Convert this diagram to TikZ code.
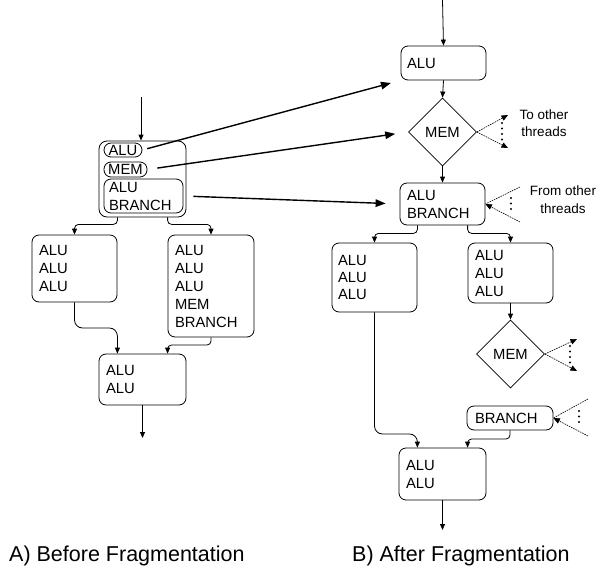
\documentclass[tikz,border=0pt]{standalone}
\usepackage{fontspec}
\setmainfont{Liberation Sans}
\usetikzlibrary{arrows.meta,shapes.geometric}
\newcommand\boxfont{\fontsize{14.8}{18}\selectfont}
\tikzset{
  bx/.style={draw, line width=0.8pt, rounded corners=7pt, align=left, inner xsep=7pt, inner ysep=0pt, font=\boxfont},
  pill/.style={draw, line width=0.8pt, rounded corners=7pt, inner sep=0pt, font=\boxfont},
  dia/.style={draw, line width=0.8pt, diamond, inner sep=0pt, minimum width=68pt, minimum height=68pt, font=\boxfont},
  arr/.style={-{Triangle[length=6pt,width=5pt]}, line width=0.8pt},
  bigarr/.style={-{Triangle[length=10pt,width=7.5pt]}, line width=1.4pt},
  fan/.style={line width=0.6pt, dash pattern=on 1.6pt off 0.9pt},
  fanarr/.style={fan, -{Triangle[length=6.5pt,width=5.5pt]}},
  dotcol/.style={line width=2.1pt, line cap=round, dash pattern=on 0pt off 5.5pt},
  note/.style={align=center, inner sep=0pt, font=\fontsize{13.5}{17.5}\selectfont},
  captext/.style={inner sep=0pt, anchor=base west, font=\fontsize{21.5}{24}\selectfont},
}
\begin{document}
\begin{tikzpicture}[x=1pt,y=-1pt]
\useasboundingbox (0,0) rectangle (603,573);

% ---------------- left: before fragmentation
\node[draw, line width=0.8pt, rounded corners=8pt, minimum width=87pt, minimum height=76pt, inner sep=0pt] (outer) at (142.5,179) {};
\node[pill, minimum width=38pt, minimum height=14pt] (pALU) at (123,150) {ALU};
\node[pill, minimum width=43pt, minimum height=15pt] (pMEM) at (125.5,169.5) {MEM};
\node[bx, inner xsep=5pt, text width=69pt, minimum height=34pt] (pAB) at (143.5,196) {ALU\\BRANCH};

\node[bx, text width=71pt, minimum height=67pt] (lA) at (74.5,268.5) {ALU\\ALU\\ALU};
\node[bx, text width=72pt, minimum height=102pt] (lB) at (211,286) {ALU\\ALU\\ALU\\MEM\\BRANCH};
\node[bx, text width=73pt, minimum height=51pt] (lC) at (142.5,379.5) {ALU\\ALU};

\coordinate (ltop) at (141,97);
\draw[arr] (ltop) -- (ltop |- outer.north);
\draw[arr, rounded corners=4pt] (lA.east |- outer.south) -- ++(0,7) -| (lA.north);
\draw[arr, rounded corners=4pt] (lB.west |- outer.south) -- ++(0,7) -| (lB.north);
\coordinate (lAbend) at (74.5,328);
\draw[arr, rounded corners=8pt] (lA.south) -- (lAbend) -- (lA.east |- lAbend) -- (lA.east |- lC.north);
\coordinate (lBbend) at (211,345);
\draw[arr, rounded corners=4pt] (lB.south) -- (lBbend) -- (lB.west |- lBbend) -- (lB.west |- lC.north);
\coordinate (lbot) at (142.5,438);
\draw[arr] (lC.south) -- (lbot);

% ---------------- right: after fragmentation
\node[bx, inner xsep=6pt, text width=73pt, minimum height=34pt] (rALU) at (443.5,63) {ALU};
\node[dia] (rM1) at (442.5,132) {MEM};
\node[bx, text width=71pt, minimum height=42pt] (rAB) at (442.5,204) {ALU\\BRANCH};
\node[bx, inner xsep=6pt, text width=73pt, minimum height=69pt, font=\fontsize{14.8}{17.3}\selectfont] (rL) at (374.5,277.5) {ALU\\ALU\\ALU};
\node[bx, text width=71pt, minimum height=60pt] (rR) at (510.5,273) {ALU\\ALU\\ALU};
\node[dia] (rM2) at (510.5,354) {MEM};
\node[bx, inner xsep=8pt, text width=70pt, minimum height=24pt] (rBr) at (510,418) {BRANCH};
\node[bx, text width=73pt, minimum height=52pt] (rC) at (442.5,474) {ALU\\ALU};

\coordinate (rtop) at (442.5,0);
\draw[arr] (rtop) -- (rALU.north);
\draw[arr] (rALU.south) -- (rM1.north);
\draw[arr] (rM1.south) -- (rAB.north);
\draw[arr, rounded corners=4pt] (rL.east |- rAB.south) -- ++(0,8) -| (rL.north);
\draw[arr, rounded corners=4pt] (rR.west |- rAB.south) -- ++(0,8) -| (rR.north);
\draw[arr] (rR.south) -- (rM2.north);
\coordinate (rLbend) at (374.5,434);
\draw[arr, rounded corners=8pt] (rL.south) -- (rLbend) -- (rL.east |- rLbend) -- (rL.east |- rC.north);
\coordinate (rBbend) at (510,439);
\draw[arr, rounded corners=4pt] (rBr.south) -- (rBbend) -- (rR.west |- rBbend) -- (rR.west |- rC.north);
\coordinate (rbot) at (442.5,530);
\draw[arr] (rC.south) -- (rbot);

% big arrows between the two halves
\draw[bigarr, shorten <=5pt, shorten >=10pt] (pALU.east) -- (rALU.south west);
\draw[bigarr, shorten <=10pt, shorten >=13pt] (pMEM.east) -- (rM1.west);
\draw[bigarr, shorten <=10pt, shorten >=14pt] (pAB.east) -- (rAB.west);

% fans to / from other threads
\coordinate (f1a) at (508,115);
\coordinate (f1b) at (508,148);
\draw[fanarr] (rM1.east) -- (f1a);
\draw[fanarr] (rM1.east) -- (f1b);
\draw[dotcol] (502,123) -- (502,141.5);
\node[note] (tot) at (544,123) {To other\\threads};

\coordinate (f2a) at (520,187);
\coordinate (f2b) at (520,222);
\draw[fan] (f2a) -- (rAB.east);
\draw[fanarr] (f2b) -- (rAB.east);
\draw[dotcol] (511,198) -- (511,212.5);
\node[note] (fot) at (563,199.5) {From other\\threads};

\coordinate (f3a) at (577,339);
\coordinate (f3b) at (577,371);
\draw[fanarr] (rM2.east) -- (f3a);
\draw[fanarr] (rM2.east) -- (f3b);
\draw[dotcol] (570,346) -- (570,364.5);

\coordinate (f4a) at (588,399);
\coordinate (f4b) at (588,436);
\draw[fan] (f4a) -- (rBr.east);
\draw[fanarr] (f4b) -- (rBr.east);
\draw[dotcol] (579,411) -- (579,425.5);

% captions
\node[captext] (capA) at (9,561.5) {A) Before Fragmentation};
\node[captext] (capB) at (352,561.5) {B) After Fragmentation};
\end{tikzpicture}
\end{document}
